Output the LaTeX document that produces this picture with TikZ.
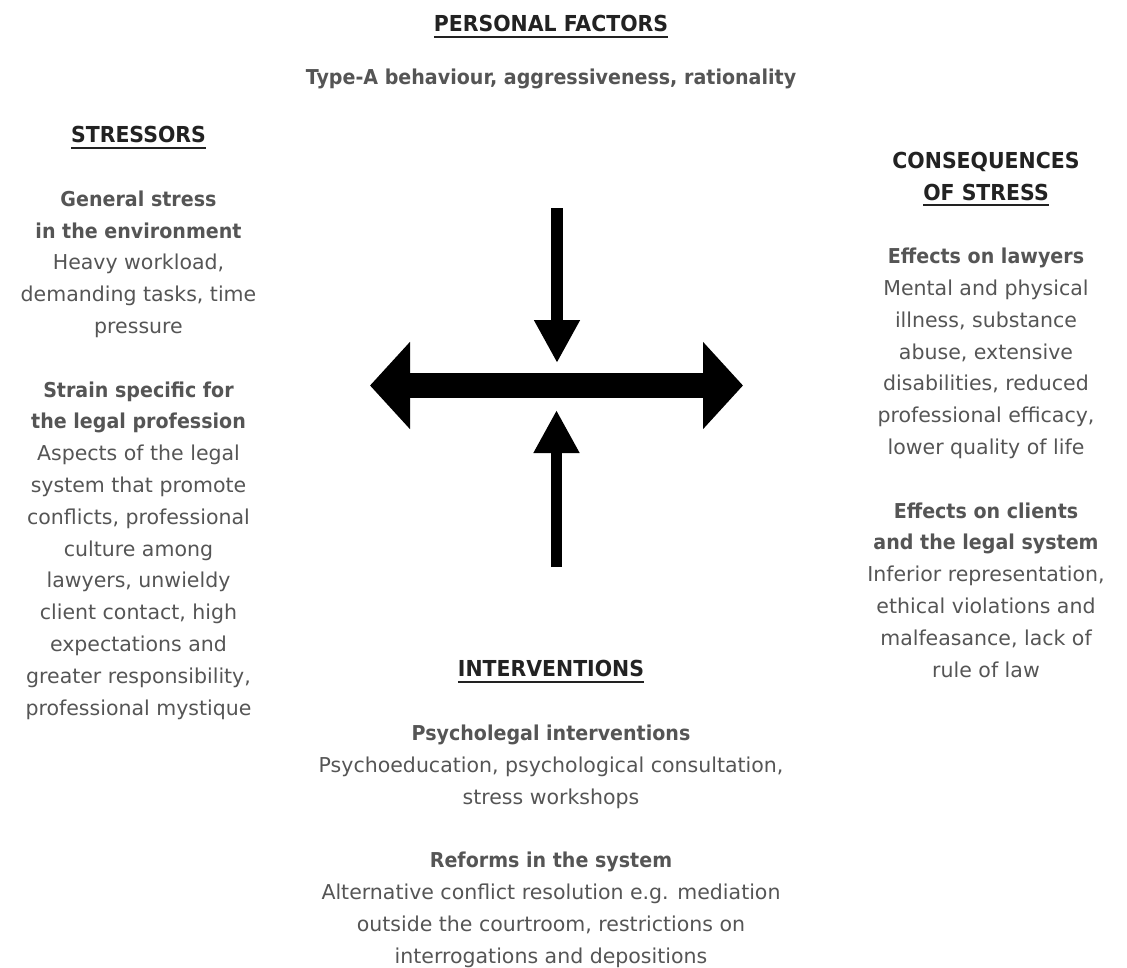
\documentclass[tikz,border=0pt]{standalone}
\usepackage{fontspec}
\setmainfont{DejaVu Sans}[BoldFeatures={FakeStretch=0.93}]
\usepackage{xcolor}
\usetikzlibrary{arrows.meta}
\usetikzlibrary{positioning}

\definecolor{headgray}{HTML}{222222}
\definecolor{textgray}{HTML}{555555}
\newcommand{\hul}[1]{\setbox0\hbox{#1}\leavevmode\rlap{\rule[-6pt]{\wd0}{2pt}}\box0}
\newcommand{\headtxt}[1]{{\color{headgray}\fontsize{22}{31.8}\selectfont\bfseries\hul{#1}}}

\begin{document}
\begin{tikzpicture}[x=1pt,y=-1pt,semithick]
  \tikzstyle{col}=[align=center, inner sep=0pt, anchor=base, text=textgray,
                   font=\fontsize{20.5}{31.8}\selectfont]
  \tikzstyle{bigarrow}=[line width=25pt,
                   {Triangle[length=40pt,width=85pt]}-{Triangle[length=40pt,width=85pt]}]
  \tikzstyle{pusharrow}=[line width=11.5pt, -{Triangle[length=43pt,width=43pt]}]
  \useasboundingbox (0,0) rectangle (1127,967);

  % headings and texts (anchored at the last line)
  \node[col] (personal) at (551,31.7) {\headtxt{PERSONAL FACTORS}};
  \node[col] (typeA) at (551,84) {\bfseries Type-A behaviour, aggressiveness, rationality};
  \node[col] (stressors) at (138.5,715) {\headtxt{STRESSORS}\\[31.8pt]
    \bfseries General stress\\ \bfseries in the environment\\
    Heavy workload,\\ demanding tasks, time\\ pressure\\[31.8pt]
    \bfseries Strain specific for\\ \bfseries the legal profession\\
    Aspects of the legal\\ system that promote\\ conflicts, professional\\
    culture among\\ lawyers, unwieldy\\ client contact, high\\
    expectations and\\ greater responsibility,\\ professional mystique};
  \node[col] (consequences) at (986,677) {{\color{headgray}\fontsize{22}{31.8}\selectfont\bfseries CONSEQUENCES}\\
    \headtxt{OF STRESS}\\[31.8pt]
    \bfseries Effects on lawyers\\
    Mental and physical\\ illness, substance\\ abuse, extensive\\
    disabilities, reduced\\ professional efficacy,\\ lower quality of life\\[31.8pt]
    \bfseries Effects on clients\\ \bfseries and the legal system\\
    Inferior representation,\\ ethical violations and\\
    malfeasance, lack of\\ rule of law};
  \node[col] (interventions) at (551,963) {\headtxt{INTERVENTIONS}\\[31.8pt]
    \bfseries Psycholegal interventions\\
    Psychoeducation, psychological consultation,\\ stress workshops\\[31.8pt]
    \bfseries Reforms in the system\\
    Alternative conflict resolution e.g. mediation\\
    outside the courtroom, restrictions on\\ interrogations and depositions};

  % arrows
  \coordinate (west) at (370,385.5);
  \coordinate (east) at (743,385.5);
  \coordinate (downstart) at (557,208);
  \coordinate (downend) at (557,363);
  \coordinate (upstart) at (556.5,567);
  \coordinate (upend) at (556.5,410);
  \draw[bigarrow] (west) -- (east);
  \draw[pusharrow] (downstart) -- (downend);
  \draw[pusharrow] (upstart) -- (upend);
\end{tikzpicture}
\end{document}
